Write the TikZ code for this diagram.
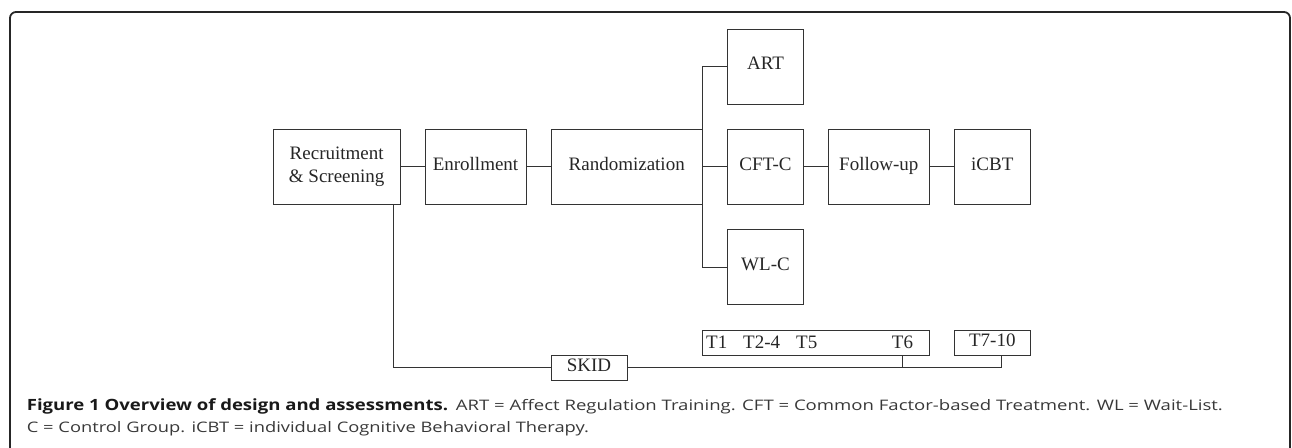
\documentclass[tikz,border=0pt]{standalone}
\usepackage{fontspec}
\setmainfont{Liberation Serif}
\newfontfamily\capfont{Open Sans}
\usepackage{xcolor}
\usetikzlibrary{calc}

% Text auf feste Breite ziehen
\newlength\capw
\newcommand\fitw[2]{\settowidth\capw{#2}\pgfmathsetmacro\capsx{#1/\capw}\scalebox{\capsx}[1]{#2}}

\tikzset{
    framebox/.style={draw=black!80, line width=1pt, minimum height=75, inner sep=0pt,
        font=\fontsize{19}{22.3}\selectfont, text=black!85},
    box/.style={framebox, text height=0.683em, text depth=0pt},
    tbox/.style={box, minimum height=24.6},
    tlab/.style={inner sep=0pt, anchor=base west, font=\fontsize{19}{22.3}\selectfont, text=black!85},
    line/.style={draw=black!80, line width=1pt},
    captext/.style={inner sep=0pt, anchor=base west, font=\capfont\fontsize{14.5}{17}\selectfont, text=black!78}
}

\begin{document}
\begin{tikzpicture}[x=1pt, y=-1pt]
    \useasboundingbox (0,0) rectangle (1292,447);

    % Rahmen
    \draw[black!85, line width=1.8pt, rounded corners=6pt] (10,520) -- (10,12) -- (1290,12) -- (1290,520);

    % Hauptreihe
    \node[framebox, minimum width=126.7, align=center] (rec) at (336.7,166.8) {Recruitment\\\& Screening};
    \node[box, minimum width=101] (enr) at (475.5,166.8) {Enrollment};
    \node[box, minimum width=151.3] (ran) at (626.7,166.8) {Randomization};
    \node[box, minimum width=75.6] (art) at (765.5,66.5) {ART};
    \node[box, minimum width=75.6] (cft) at (765.5,166.8) {CFT-C};
    \node[box, minimum width=75.6] (wlc) at (765.5,267.2) {WL-C};
    \node[box, minimum width=101] (fol) at (878.8,166.8) {Follow-up};
    \node[box, minimum width=76] (icbt) at (992.3,166.8) {iCBT};

    % Messzeitpunkte
    \node[tbox, minimum width=227] (tw) at (815.8,343) {};
    \node[tlab] (t1) at (706,348.3) {T1};
    \node[tlab] (t24) at (743,348.3) {T2-4};
    \node[tlab] (t5) at (796,348.3) {T5};
    \node[tlab] (t6) at (891.7,348.3) {T6};
    \node[tbox, minimum width=76] (t710) at (992.3,343) {T7-10};
    \node[tbox, minimum width=76] (skid) at (589,367.8) {SKID};

    % Verbindungen
    \draw[line] (rec) -- (enr);
    \draw[line] (enr) -- (ran);
    \draw[line] (ran) -- (cft);
    \draw[line] (cft) -- (fol);
    \draw[line] (fol) -- (icbt);
    \draw[line] (art.west) -- (art.west -| ran.east) -- (wlc.west -| ran.east) -- (wlc.west);

    % Diagnostik
    \draw[line] ([xshift=-6.7pt]rec.south east) |- (skid.west);
    \draw[line] (skid.east) -| ([xshift=9pt]t710.south);
    \draw[line] (tw.south -| t6) -- (skid -| t6);

    % Legende
    \node[captext] (cap1) at (26.7,410.7) {\fitw{421.3pt}{\fontsize{15.5}{17}\selectfont\bfseries\color{black!90}Figure 1 Overview of design and assessments.}\hspace{7.7pt}\fitw{767pt}{ART = Affect Regulation Training. CFT = Common Factor-based Treatment. WL = Wait-List.}};
    \node[captext] (cap2) at (26.7,432) {\fitw{562pt}{C = Control Group. iCBT = individual Cognitive Behavioral Therapy.}};
\end{tikzpicture}
\end{document}
